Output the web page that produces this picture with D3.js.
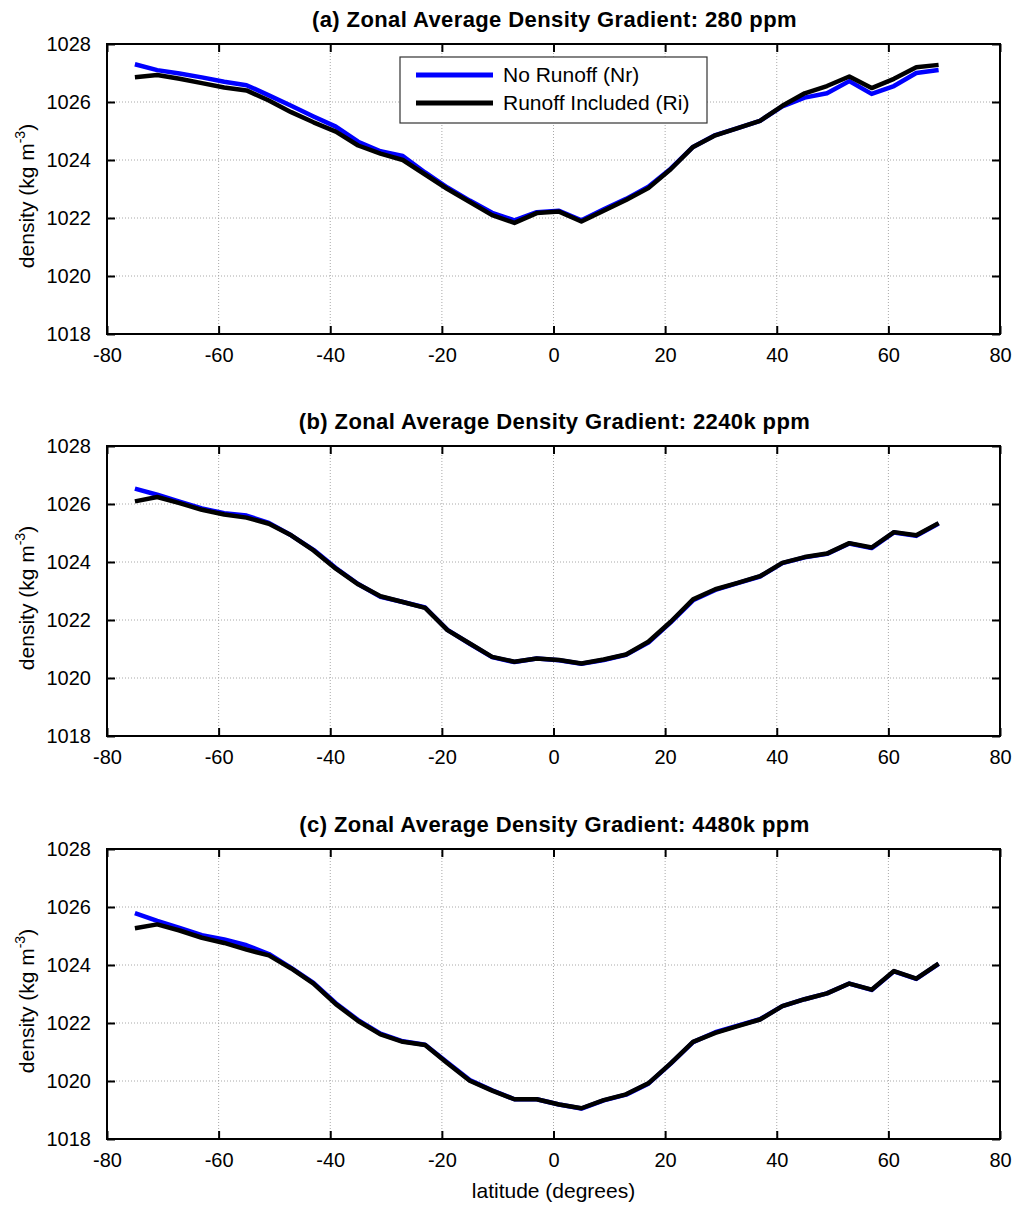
<!DOCTYPE html>
<html><head><meta charset="utf-8">
<script src="https://cdn.jsdelivr.net/npm/d3@7"></script>
<style>
body{margin:0;background:#fff;}
svg{display:block;}
text{font-family:"Liberation Sans",Arial,Helvetica,sans-serif;fill:#000;}
</style>
</head><body>
<svg id="chart" width="1016" height="1209"></svg>
<script>
// ---------------- data ----------------
const latitudes = [-75,-71,-67,-63,-59,-55,-51,-47,-43,-39,-35,-31,-27,-23,-19,-15,-11,-7,-3,1,5,9,13,17,21,25,29,33,37,41,45,49,53,57,61,65,69];

const nr280 = [1027.30,1027.10,1026.98,1026.85,1026.70,1026.58,1026.23,1025.87,1025.50,1025.15,1024.63,1024.30,1024.14,1023.57,1023.05,1022.60,1022.18,1021.92,1022.20,1022.25,1021.92,1022.30,1022.66,1023.08,1023.70,1024.45,1024.86,1025.10,1025.35,1025.85,1026.15,1026.30,1026.72,1026.28,1026.55,1027.00,1027.10];
const ri280 = [1026.85,1026.93,1026.80,1026.65,1026.50,1026.40,1026.05,1025.65,1025.30,1024.98,1024.50,1024.22,1024.00,1023.50,1023.00,1022.55,1022.10,1021.83,1022.17,1022.22,1021.88,1022.25,1022.62,1023.03,1023.68,1024.45,1024.85,1025.10,1025.35,1025.87,1026.30,1026.55,1026.88,1026.48,1026.80,1027.20,1027.28];

const nr2240 = [1026.53,1026.32,1026.08,1025.85,1025.68,1025.60,1025.35,1024.92,1024.42,1023.79,1023.24,1022.80,1022.62,1022.43,1021.66,1021.18,1020.72,1020.55,1020.67,1020.61,1020.49,1020.62,1020.80,1021.22,1021.92,1022.68,1023.04,1023.27,1023.50,1023.96,1024.16,1024.28,1024.64,1024.48,1025.02,1024.90,1025.33];
const ri2240 = [1026.09,1026.24,1026.03,1025.80,1025.64,1025.53,1025.32,1024.92,1024.40,1023.77,1023.23,1022.82,1022.62,1022.42,1021.65,1021.19,1020.73,1020.56,1020.67,1020.62,1020.50,1020.64,1020.81,1021.25,1021.94,1022.71,1023.06,1023.28,1023.51,1023.97,1024.17,1024.29,1024.65,1024.50,1025.03,1024.92,1025.34];

const nr4480 = [1025.79,1025.52,1025.28,1025.03,1024.88,1024.68,1024.38,1023.90,1023.38,1022.68,1022.10,1021.63,1021.37,1021.25,1020.64,1020.03,1019.68,1019.37,1019.37,1019.19,1019.05,1019.33,1019.53,1019.91,1020.60,1021.34,1021.68,1021.91,1022.13,1022.58,1022.82,1023.02,1023.36,1023.14,1023.78,1023.52,1024.04];
const ri4480 = [1025.27,1025.40,1025.19,1024.94,1024.76,1024.53,1024.33,1023.88,1023.36,1022.65,1022.07,1021.61,1021.35,1021.24,1020.61,1020.01,1019.67,1019.37,1019.37,1019.19,1019.06,1019.34,1019.54,1019.92,1020.61,1021.35,1021.66,1021.89,1022.12,1022.58,1022.82,1023.02,1023.36,1023.15,1023.79,1023.53,1024.05];

const panelTitles = [
  "(a) Zonal Average Density Gradient: 280 ppm",
  "(b) Zonal Average Density Gradient: 2240k ppm",
  "(c) Zonal Average Density Gradient: 4480k ppm"
];
const seriesNames = ["No Runoff (Nr)", "Runoff Included (Ri)"];
const seriesColors = ["#0000ff", "#000000"];
const xTicks = [-80,-60,-40,-20,0,20,40,60,80];
const yTicks = [1018,1020,1022,1024,1026,1028];
const xLabel = "latitude (degrees)";

const panels = [
  {title: panelTitles[0], nr: nr280, ri: ri280},
  {title: panelTitles[1], nr: nr2240, ri: ri2240},
  {title: panelTitles[2], nr: nr4480, ri: ri4480}
];

// ---------------- layout ----------------
const svg = d3.select("#chart");
const left = 107, right = 1000, plotH = 290;
const tops = [44, 446, 849];
const x = d3.scaleLinear().domain([-80, 80]).range([left, right]);

panels.forEach((p, i) => {
  const top = tops[i], bottom = top + plotH;
  const y = d3.scaleLinear().domain([1018, 1028]).range([bottom, top]);
  const g = svg.append("g");

  // grid
  g.append("g").selectAll("line").data(xTicks.slice(1, -1)).join("line")
    .attr("x1", d => x(d)).attr("x2", d => x(d)).attr("y1", top).attr("y2", bottom)
    .attr("stroke", "#a8a8a8").attr("stroke-width", 1).attr("stroke-dasharray", "1,2");
  g.append("g").selectAll("line").data(yTicks.slice(1, -1)).join("line")
    .attr("x1", left).attr("x2", right).attr("y1", d => y(d)).attr("y2", d => y(d))
    .attr("stroke", "#a8a8a8").attr("stroke-width", 1).attr("stroke-dasharray", "1,2");

  // axes (ticks inward, labels outside)
  const xb = d3.axisBottom(x).tickValues(xTicks).tickSize(-8).tickPadding(14).tickFormat(d3.format("d"));
  const xt = d3.axisTop(x).tickValues(xTicks).tickSize(-8).tickFormat("");
  const yl = d3.axisLeft(y).tickValues(yTicks).tickSize(-8).tickPadding(16).tickFormat(d3.format("d"));
  const yr = d3.axisRight(y).tickValues(yTicks).tickSize(-8).tickFormat("");

  const styleAxis = sel => {
    sel.select(".domain").remove();
    sel.selectAll(".tick line").attr("stroke", "#000").attr("stroke-width", 2);
    sel.selectAll(".tick text").attr("font-size", 20).attr("fill", "#000")
      .attr("font-family", "'Liberation Sans',Arial,Helvetica,sans-serif");
  };
  g.append("g").attr("transform", `translate(0,${bottom})`).call(xb).call(styleAxis)
    .selectAll(".tick text").text(d => d3.format("d")(d).replace("\u2212", "-"));
  g.append("g").attr("transform", `translate(0,${top})`).call(xt).call(styleAxis);
  g.append("g").attr("transform", `translate(${left},0)`).call(yl).call(styleAxis);
  g.append("g").attr("transform", `translate(${right},0)`).call(yr).call(styleAxis);

  // lines
  const line = d3.line().x((d, k) => x(latitudes[k])).y(d => y(d));
  [p.nr, p.ri].forEach((s, k) => {
    g.append("path").datum(s).attr("d", line).attr("fill", "none")
      .attr("stroke", seriesColors[k]).attr("stroke-width", 4.5)
      .attr("stroke-linejoin", "round").attr("stroke-linecap", "butt");
  });

  // frame
  g.append("rect").attr("x", left).attr("y", top).attr("width", right - left).attr("height", plotH)
    .attr("fill", "none").attr("stroke", "#000").attr("stroke-width", 2);

  // title
  svg.append("text").attr("x", (left + right) / 2 + 1).attr("y", top - 17)
    .attr("text-anchor", "middle").attr("font-size", 22).attr("font-weight", "bold")
    .attr("letter-spacing", 0.4)
    .text(p.title);

  // y label
  const yt = svg.append("text")
    .attr("transform", `translate(34,${top + plotH / 2 + 7}) rotate(-90)`)
    .attr("text-anchor", "middle").attr("font-size", 21);
  yt.append("tspan").text("density (kg m");
  yt.append("tspan").attr("dy", -9).attr("font-size", 14).text("-3");
  yt.append("tspan").attr("dy", 9).text(")");

  // legend only in first panel
  if (i === 0) {
    const lg = svg.append("g");
    lg.append("rect").attr("x", 400).attr("y", 57).attr("width", 307).attr("height", 66)
      .attr("fill", "#fff").attr("stroke", "#333").attr("stroke-width", 1.2);
    seriesNames.forEach((nm, k) => {
      const ly = 75 + k * 28;
      lg.append("line").attr("x1", 416).attr("x2", 493).attr("y1", ly).attr("y2", ly)
        .attr("stroke", seriesColors[k]).attr("stroke-width", 5);
      lg.append("text").attr("x", 503).attr("y", ly + 7).attr("font-size", 21).text(nm);
    });
  }
});

// x label
svg.append("text").attr("x", (left + right) / 2).attr("y", 1198)
  .attr("text-anchor", "middle").attr("font-size", 21).text(xLabel);
</script>
</body></html>
